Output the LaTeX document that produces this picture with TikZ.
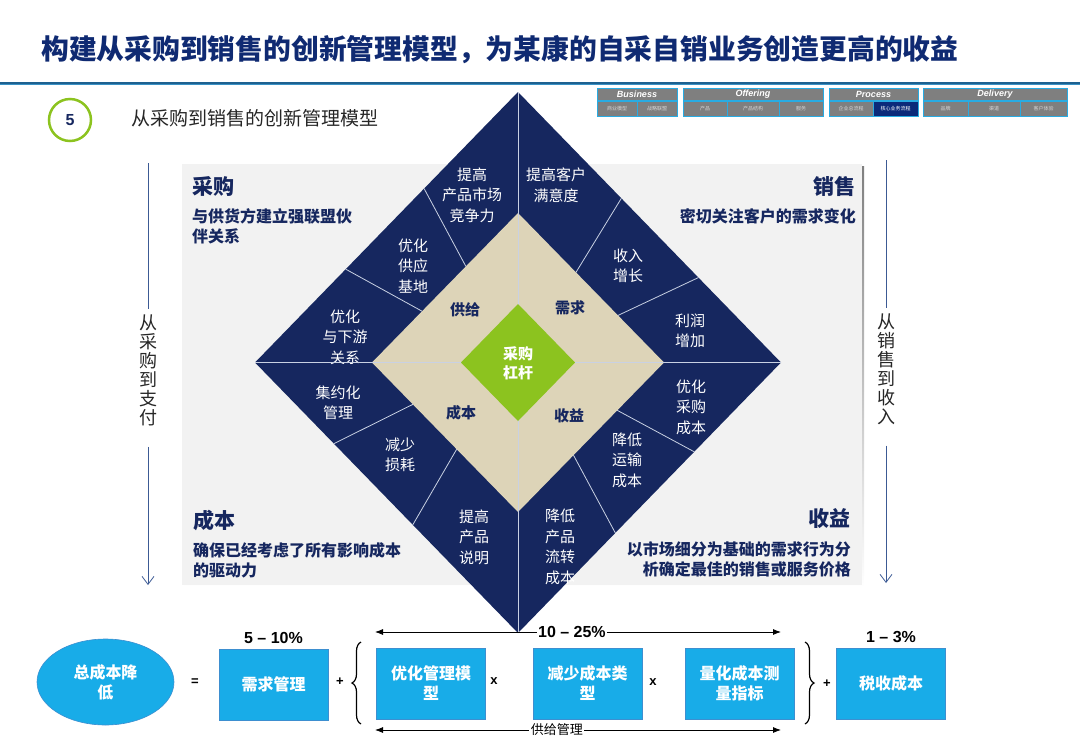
\documentclass[tikz,border=0pt]{standalone}
\usepackage{fontspec}
\setmainfont{Noto Sans CJK SC}
\newfontfamily\latin{Liberation Sans}
\usetikzlibrary{arrows.meta, positioning, calc, decorations.pathreplacing, shapes.geometric}
\definecolor{navy}{HTML}{16275F}
\definecolor{titleblue}{HTML}{0F2A72}
\definecolor{beige}{HTML}{DDD4B8}
\definecolor{leaf}{HTML}{8CC31F}
\definecolor{sky}{HTML}{18ACE8}
\definecolor{skyedge}{HTML}{3D8FD0}
\definecolor{ruledk}{HTML}{1D6190}
\definecolor{rulelt}{HTML}{3A92C5}
\definecolor{panel}{HTML}{F2F2F2}
\definecolor{shade}{HTML}{CFCFCF}
\definecolor{tabgray}{HTML}{7F7F7F}
\definecolor{tabedge}{HTML}{29ABE2}
\definecolor{tabtext}{HTML}{D6D6D6}
\definecolor{tabsel}{HTML}{0B2A7A}
\definecolor{divline}{HTML}{C9D1E3}
\definecolor{sideblue}{HTML}{3C5A94}
\definecolor{ink}{HTML}{262626}

\tikzset{
  cell/.style={text=white, font=\fontsize{15}{20.5}\selectfont, align=center, inner sep=0pt},
  part/.style={text=navy, font=\bfseries\fontsize{15}{18}\selectfont, inner sep=0pt},
  head/.style={text=navy, font=\bfseries\fontsize{21}{24}\selectfont, inner sep=0pt},
  note/.style={text=navy, font=\bfseries\fontsize{16}{20}\selectfont, inner sep=0pt},
  divider/.style={draw=divline, line width=0.8pt},
  factor/.style={rectangle, fill=sky, draw=skyedge, line width=0.8pt,
    minimum width=109pt, minimum height=71pt, text=white,
    font=\bfseries\fontsize{16}{20}\selectfont, align=center, inner sep=0pt},
  op/.style={font=\latin\bfseries\fontsize{13}{14}\selectfont, inner sep=0pt},
  pct/.style={font=\latin\bfseries\fontsize{16}{18}\selectfont, inner sep=0pt},
  side/.style={text=ink, font=\fontsize{18}{19}\selectfont, align=center, inner sep=5pt},
  sideline/.style={draw=sideblue, line width=0.8pt},
  tabbox/.style={fill=tabgray, draw=tabedge, line width=1pt},
  tabhead/.style={text=white, font=\latin\bfseries\itshape\fontsize{9}{9}\selectfont, inner sep=0pt},
  tabcell/.style={text=tabtext, font=\fontsize{5}{6}\selectfont, inner sep=0pt}
}

\begin{document}
\begin{tikzpicture}[x=1pt, y=-1pt, >={Latex[length=8pt, width=6pt]}]
\useasboundingbox (0,0) rectangle (1080,748);

% Title
\node[anchor=west, text=titleblue, font=\bfseries\fontsize{27.8}{30}\selectfont, inner sep=0pt] (title) at (41,50)
  {构建从采购到销售的创新管理模型，为某康的自采自销业务创造更高的收益};
\draw[ruledk, line width=2pt] (0,82.5) -- (1080,82.5);
\draw[rulelt, line width=1.5pt] (0,84.5) -- (1080,84.5);

% Navigation tabs
\foreach \xa/\xb/\lab in {597/677/Business, 683/823/Offering, 829/918/Process, 923/1067/Delivery} {
  \draw[tabbox] (\xa,88) rectangle (\xb,100);
  \node[tabhead] (tab\lab) at ({(\xa+\xb)/2},94.5) {\lab};
}
\foreach \xa/\xb/\lab [count=\i] in {597/637/商业模型, 637/677/战略联盟, 683/727/产品, 727/779/产品结构, 779/823/服务,
    829/873/企业总流程, 873/918/核心业务流程, 923/968/品牌, 968/1020/渠道, 1020/1067/客户体验} {
  \draw[tabbox] (\xa,101.5) rectangle (\xb,116);
  \node[tabcell] (sub\i) at ({(\xa+\xb)/2},108.75) {\lab};
}
\draw[tabbox, fill=tabsel] (873,101.5) rectangle (918,116);
\node[tabcell, text=white] (subsel) at (895.5,108.75) {核心业务流程};

% Step badge and subtitle
\node[circle, draw=leaf, line width=2.5pt, fill=white, minimum size=42pt, inner sep=0pt,
  text=navy, font=\latin\bfseries\fontsize{16}{18}\selectfont] (badge) at (70,120) {5};
\node[anchor=west, text=ink, font=\fontsize{19}{22}\selectfont, inner sep=0pt] (subtitle) at (131,118)
  {从采购到销售的创新管理模型};

% Background panel
\fill[shade] (184,166.5) rectangle (864,587.5);
\fill[panel] (182,164) rectangle (862,585);

% Outer diamond
\coordinate (T) at (518,92);
\coordinate (L) at (255,362.5);
\coordinate (R) at (781,362.5);
\coordinate (B) at (518,633);
\fill[navy] (T) -- (R) -- (B) -- (L) -- cycle;

% Inner diamond
\coordinate (bT) at (518,213);
\coordinate (bL) at (372,362.5);
\coordinate (bR) at (664,362.5);
\coordinate (bB) at (518,512);
\fill[beige] (bT) -- (bR) -- (bB) -- (bL) -- cycle;

% Dividers
\draw[divider] (T) -- (B);
\draw[divider] (L) -- (R);
\draw[divider] ($(T)!0.357!(L)$) -- ($(bT)!0.357!(bL)$);
\draw[divider] ($(T)!0.655!(L)$) -- ($(bT)!0.657!(bL)$);
\draw[divider] ($(T)!0.393!(R)$) -- ($(bT)!0.397!(bR)$);
\draw[divider] ($(T)!0.686!(R)$) -- ($(bT)!0.685!(bR)$);
\draw[divider] ($(L)!0.30!(B)$) -- ($(bL)!0.28!(bB)$);
\draw[divider] ($(L)!0.60!(B)$) -- ($(bL)!0.58!(bB)$);
\draw[divider] ($(R)!0.33!(B)$) -- ($(bR)!0.32!(bB)$);
\draw[divider] ($(R)!0.63!(B)$) -- ($(bR)!0.62!(bB)$);

% Core
\fill[leaf] (518,304) -- (575,362.5) -- (518,421) -- (461,362.5) -- cycle;
\node[text=white, font=\bfseries\fontsize{15}{19}\selectfont, align=center, inner sep=0pt] (core) at (518,363) {采购\\杠杆};

% Quadrant labels
\node[part] (supply) at (465,310) {供给};
\node[part] (demand) at (570,308) {需求};
\node[part] (cost) at (461,413) {成本};
\node[part] (gain) at (569,416) {收益};

% Lever cells
\node[cell] (c1) at (472,195) {提高\\产品市场\\竞争力};
\node[cell] (c2) at (556,185) {提高客户\\满意度};
\node[cell] (c3) at (413,266) {优化\\供应\\基地};
\node[cell] (c4) at (628,266) {收入\\增长};
\node[cell] (c5) at (345,337) {优化\\与下游\\关系};
\node[cell] (c6) at (690,331) {利润\\增加};
\node[cell] (c7) at (338,403) {集约化\\管理};
\node[cell] (c8) at (400,455) {减少\\损耗};
\node[cell] (c9) at (691,407) {优化\\采购\\成本};
\node[cell] (c10) at (627,460) {降低\\运输\\成本};
\node[cell] (c11) at (474,537) {提高\\产品\\说明};
\node[cell] (c12) at (560,547) {降低\\产品\\流转\\成本};
\draw[divider] (L) -- (bL);

% Corner notes
\node[head, anchor=west] (buy) at (192,186) {采购};
\node[note, anchor=north west, align=left] (buytxt) at (192,208) {与供货方建立强联盟伙\\伴关系};
\node[head, anchor=east] (sell) at (856,186) {销售};
\node[note, anchor=north east, align=right] (selltxt) at (856,208) {密切关注客户的需求变化};
\node[head, anchor=west] (costhd) at (193,520) {成本};
\node[note, anchor=north west, align=left] (costtxt) at (193,542) {确保已经考虑了所有影响成本\\的驱动力};
\node[head, anchor=east] (gainhd) at (851,519) {收益};
\node[note, anchor=north east, align=right] (gaintxt) at (851,541) {以市场细分为基础的需求行为分\\析确定最佳的销售或服务价格};

% Side arrows
\coordinate (lTop) at (148,163);
\coordinate (lBot) at (148,585);
\node[side] (lText) at (148,370) {从\\采\\购\\到\\支\\付};
\draw[sideline] (lTop) -- (lText.north);
\draw[sideline, -{Straight Barb[length=8pt, width=12pt]}] ([yshift=-16pt]lText.south) -- (lBot);
\coordinate (rTop) at (886,160);
\coordinate (rBot) at (886,583);
\node[side] (rText) at (886,369) {从\\销\\售\\到\\收\\入};
\draw[sideline] (rTop) -- (rText.north);
\draw[sideline, -{Straight Barb[length=8pt, width=12pt]}] ([yshift=-16pt]rText.south) -- (rBot);

% Formula
\node[ellipse, fill=sky, draw=skyedge, line width=0.6pt, minimum width=137pt, minimum height=86pt,
  text=white, font=\bfseries\fontsize{16}{20}\selectfont, align=center, inner sep=0pt] (total) at (105.5,682) {总成本降\\低};
\node[op] (eq) at (195,682) {=};
\node[factor] (dem) at (273.5,684.5) {需求管理};
\node[op] (plus1) at (340,682) {+};
\node[factor] (model) at (431,683.5) {优化管理模\\型};
\node[op] (times1) at (494,681) {x};
\node[factor] (types) at (587.5,683.5) {减少成本类\\型};
\node[op] (times2) at (653,682) {x};
\node[factor] (metric) at (739.5,683.5) {量化成本测\\量指标};
\node[op] (plus2) at (827,684) {+};
\node[factor] (tax) at (891,683.5) {税收成本};
\node[pct, above=5pt of dem] (demp) {5 – 10\%};
\node[pct, above=5pt of tax] (taxp) {1 – 3\%};

% Braces
\draw[decorate, decoration={brace, amplitude=9pt}, line width=1.2pt] (361,724) -- (361,642);
\draw[decorate, decoration={brace, amplitude=9pt}, line width=1.2pt] (805,642) -- (805,724);

% Range arrows
\coordinate (aL) at (375,632);
\coordinate (aR) at (781,632);
\draw[<->, line width=0.8pt] (aL) -- (aR) node[pct, pos=0.485, fill=white, inner sep=1.5pt] (range) {10 – 25\%};
\coordinate (sL) at (375,730);
\coordinate (sR) at (781,730);
\draw[<->, line width=0.8pt] (sL) -- (sR) node[pos=0.448, fill=white, inner sep=1.5pt, font=\fontsize{13}{15}\selectfont] (chain) {供给管理};

\end{tikzpicture}
\end{document}
